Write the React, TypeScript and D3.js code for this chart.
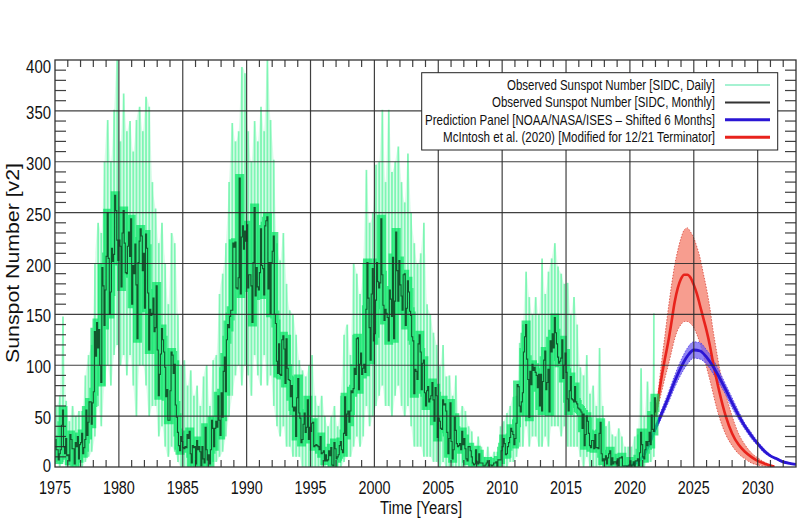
import React from 'react';
import * as d3 from 'd3';

// ---------- DATA ----------
// Monthly mean sunspot number (SIDC v2), Jan 1975 .. Jan 2022
const MONTHLY_START = 1975;
const MONTHLY: number[] = [
  27,17,17,7,13,17,41,56,20,13,28,11,
  12,6,32,27,18,18,3,24,20,30,8,22,
  24,33,13,19,27,56,31,44,64,64,42,63,
  74,133,109,142,117,135,100,83,196,178,139,174,
  207,250,205,150,172,215,202,209,267,252,223,203,
  223,217,177,230,252,220,191,190,217,231,207,244,
  160,198,190,219,179,126,201,222,234,227,193,210,
  156,229,215,171,115,155,149,151,166,133,137,178,
  115,70,91,111,136,125,113,98,69,76,46,46,
  75,113,110,92,101,61,49,34,21,16,30,25,
  19,18,20,19,32,28,35,13,4,21,19,20,
  3,26,17,20,15,1,20,8,4,39,17,7,
  12,3,17,46,38,20,38,45,39,70,46,31,
  73,49,94,108,74,125,140,137,148,154,154,220,
  216,221,176,175,186,284,170,226,237,214,232,222,
  238,176,189,189,178,142,201,255,168,196,177,174,
  191,234,198,195,169,237,242,246,175,201,151,201,
  212,227,150,141,104,92,121,91,90,125,129,116,
  82,126,97,86,85,69,80,59,55,59,30,68,
  87,53,48,24,27,42,53,34,39,66,27,39,
  35,43,44,20,21,22,21,20,17,30,13,14,
  16,6,12,6,7,16,11,19,2,1,24,18,
  8,10,12,21,25,17,14,33,69,31,52,55,
  44,55,75,73,77,97,91,126,127,76,101,112,
  91,97,101,93,155,201,166,137,105,170,195,124,
  131,164,201,182,176,181,244,189,159,144,155,151,
  147,124,174,165,148,206,126,163,231,193,163,203,
  179,168,154,189,190,139,156,183,172,153,149,128,
  124,72,96,94,86,121,130,113,76,102,105,73,
  60,75,79,64,67,70,83,66,45,78,70,29,
  48,45,38,37,66,61,62,55,34,13,28,63,
  25,8,17,49,36,23,20,21,23,17,35,22,
  28,18,8,6,20,20,16,10,4,2,3,17,
  5,3,13,4,4,4,1,1,2,4,6,1,
  2,2,1,2,4,4,5,0,7,7,7,16,
  20,28,23,12,13,20,24,29,38,35,32,22,
  28,43,81,79,60,54,64,73,113,128,140,106,
  86,49,94,81,101,95,98,93,90,78,91,60,
  91,55,84,105,114,76,83,96,54,124,113,131,
  117,147,132,121,108,102,104,107,125,87,100,112,
  93,67,55,75,89,67,66,64,79,64,62,58,
  57,56,54,38,52,21,32,50,45,33,21,19,
  26,26,18,32,19,19,18,33,44,13,6,8,
  7,11,3,9,13,16,2,9,3,5,5,3,
  8,1,9,9,10,1,1,1,1,0,1,2,
  6,0,2,5,0,6,6,8,1,14,34,22,
  10,8,17,25,21,25,34,22,51,37,35,68,
  54,
];

// Daily sunspot number range per quarter (max / min of daily values), 1975 Q1 .. 2021 Q4
const DAILY_START = 1975;
const DAILY_HI: number[] = [
  60,70,148,65, 45,60,50,55, 55,90,110,120, 200,240,230,300,
  341,300,351,405, 320,367,330,340, 310,341,354,330, 364,354,280,254,
  220,240,200,160, 230,220,150,100, 105,80,95,70, 80,60,89,100,
  60,105,110,170, 190,220,280,338, 320,330,393,387, 330,300,340,320,
  354,330,400,341, 302,220,203,230, 180,154,150,130, 105,95,89,100,
  110,70,60,70, 50,40,50,60, 40,70,130,140, 110,200,190,170,
  200,292,240,250, 297,300,351,280, 351,290,300,315, 280,260,308,250,
  220,200,210,240, 160,150,132,120, 99,120,89,90, 70,90,50,60,
  55,40,35,17, 30,20,10,20, 10,15,15,40, 45,53,60,69,
  70,122,140,192, 167,150,167,150, 205,170,192,205, 220,197,190,180,
  181,150,167,140, 98,90,110,72, 80,60,117,60, 40,45,32,30,
  38,30,20,20, 20,30,32,97, 50,84,64,151,
];
const DAILY_LO: number[] = [
  5,0,5,0, 0,0,0,0, 0,5,10,15, 30,60,40,80,
  100,80,110,120, 100,110,90,110, 80,50,100,100, 80,50,60,60,
  30,40,20,10, 20,15,5,0, 0,0,0,0, 0,0,0,0,
  0,5,5,10, 15,30,50,70, 90,100,80,100, 90,70,110,90,
  80,110,80,90, 60,40,30,40, 20,20,10,10, 10,0,0,0,
  0,0,0,0, 0,0,0,0, 0,0,5,10, 10,20,30,20,
  30,60,40,50, 60,70,80,60, 60,50,70,80, 60,50,60,40,
  20,20,20,10, 10,10,5,5, 0,5,0,0, 0,0,0,0,
  0,0,0,0, 0,0,0,0, 0,0,0,0, 0,0,5,5,
  10,20,20,40, 20,30,30,20, 20,30,20,40, 40,40,30,40,
  20,20,20,20, 10,0,10,0, 0,0,0,0, 0,0,0,0,
  0,0,0,0, 0,0,0,0, 0,5,5,10,
];

// NOAA/NASA/ISES prediction panel (shifted 6 months)
const BLUE_YEARS = [2019.5,2020,2020.5,2021,2021.5,2022,2022.5,2023,2023.5,2024,2024.5,2025,2025.5,2026,2026.5,2027,2027.5,2028,2028.5,2029,2029.5,2030,2030.5,2031,2031.5,2032,2032.5,2033];
const BLUE_MID = [0,1,4,10,22,38,53,68,84,98,109,115,114,108,99,88,76,63,51,40,31,23,16,11,8,5,3.5,2.5];
const BLUE_HI = [0,1.5,5,11,24,41,57,73,90,105,117,123,122,115,106,94,81,68,55,43,34,25,18,12,9,6,4,3];
const BLUE_LO = [0,0.5,3,9,20,35,49,63,78,91,101,107,106,101,92,82,71,58,47,37,28,21,14,10,7,4,3,2];

// McIntosh et al. (2020)
const RED_YEARS = [2022,2022.25,2022.5,2022.75,2023,2023.25,2023.5,2023.75,2024,2024.25,2024.5,2024.75,2025,2025.25,2025.5,2025.75,2026,2026.25,2026.5,2026.75,2027,2027.5,2028,2028.5,2029,2029.5,2030,2030.5,2031,2031.3];
const RED_MID = [50,70,90,107,123,142,162,176,185,189,189,186,179,170,158,146,134,120,103,88,74,50,33,22,15,10,6,3.5,1.5,0.5];
const RED_HI = [50,78,105,130,155,178,198,213,225,233,235,231,225,216,205,190,175,157,135,116,98,72,50,33,22,14,9,5,2,0.8];
const RED_LO = [50,62,75,88,100,113,126,135,140,143,143,141,137,130,121,110,98,86,73,60,49,32,21,13,8,4,2,1,0.3,0];

const X_TICKS = [1975,1980,1985,1990,1995,2000,2005,2010,2015,2020,2025,2030];
const Y_TICKS = [0,50,100,150,200,250,300,350,400];

const LEGEND_LABELS = [
  'Observed Sunspot Number [SIDC, Daily]',
  'Observed Sunspot Number [SIDC, Monthly]',
  'Prediction Panel [NOAA/NASA/ISES \u2013 Shifted 6 Months]',
  'McIntosh et al. (2020) [Modified for 12/21 Terminator]',
];
const LEGEND_COLORS = ['#a6f2d2', '#333333', '#2a16d4', '#e8231c'];
const LEGEND_WIDTHS = [208, 223, 290, 272];

// ---------- CHART ----------
const FONT = '"Liberation Sans", Arial, Helvetica, sans-serif';

export default function App() {
  const L = 55, R = 796, T = 60, B = 467;
  const x = d3.scaleLinear().domain([1975, 2033]).range([L, R]);
  const y = d3.scaleLinear().domain([0, 400]).range([B, T]);

  const monthly = MONTHLY.map((v, i) => ({ t: MONTHLY_START + (i + 0.5) / 12, v }));
  const daily = DAILY_HI.map((hi, i) => ({ t: DAILY_START + (i + 0.5) / 4, hi, lo: DAILY_LO[i] }));

  const monthlyLine = d3.line<{ t: number; v: number }>().x(d => x(d.t)).y(d => y(d.v)).curve(d3.curveStep);
  const dailyArea = d3.area<{ t: number; hi: number; lo: number }>()
    .x(d => x(d.t)).y0(d => y(d.lo)).y1(d => y(d.hi)).curve(d3.curveMonotoneX);

  const band = (years: number[], lo: number[], hi: number[]) =>
    d3.area<number>().x((_, i) => x(years[i])).y0((_, i) => y(lo[i])).y1((_, i) => y(hi[i])).curve(d3.curveMonotoneX)(years) || '';
  const line = (years: number[], vals: number[]) =>
    d3.line<number>().x((_, i) => x(years[i])).y((_, i) => y(vals[i])).curve(d3.curveMonotoneX)(years) || '';

  const minorX = d3.range(1976, 2033).filter(v => v % 5 !== 0);
  const minorY = d3.range(10, 400, 10).filter(v => v % 50 !== 0);

  return (
    <svg width={804} height={518} style={{ position: 'absolute', left: 0, top: 0, background: '#fff' }} fontFamily={FONT}>
      <defs>
        <clipPath id="plot"><rect x={L} y={T} width={R - L} height={B - T} /></clipPath>
      </defs>

      <g clipPath="url(#plot)">
        {/* predictions */}
        <path d={band(RED_YEARS, RED_LO, RED_HI)} fill="#f5826f" fillOpacity={0.78} stroke="#d8443a" strokeWidth={0.8} strokeDasharray="1.5 1.5" />
        <path d={band(BLUE_YEARS, BLUE_LO, BLUE_HI)} fill="#6e5ef2" fillOpacity={0.75} stroke="#4a38e0" strokeWidth={0.8} strokeDasharray="1.5 1.5" />
        <path d={line(RED_YEARS, RED_MID)} fill="none" stroke="#e8231c" strokeWidth={2.6} />
        <path d={line(BLUE_YEARS, BLUE_MID)} fill="none" stroke="#2a16d4" strokeWidth={2.8} />

        {/* daily observed */}
        <path d={dailyArea(daily) || ''} fill="#7ff5b5" fillOpacity={0.28} />
        {daily.map((d, i) => (
          <line key={i} x1={x(d.t)} x2={x(d.t)} y1={y(d.lo)} y2={y(d.hi)} stroke="#3ff290" strokeOpacity={0.6} strokeWidth={1.8} />
        ))}
        <path d={monthlyLine(monthly) || ''} fill="none" stroke="#00e35f" strokeOpacity={0.7} strokeWidth={8} />
        {/* monthly observed */}
        <path d={monthlyLine(monthly) || ''} fill="none" stroke="#0d3d1e" strokeOpacity={0.85} strokeWidth={1.1} />
      </g>

      {/* grid */}
      <g stroke="#2b2b2b" strokeWidth={1.2} strokeOpacity={0.9}>
        {X_TICKS.filter(t => t > 1975).map(t => (
          <line key={'gx' + t} x1={x(t)} x2={x(t)} y1={T} y2={B} />
        ))}
        {Y_TICKS.filter(v => v > 0 && v < 400).map(v => (
          <line key={'gy' + v} x1={L} x2={R} y1={y(v)} y2={y(v)} />
        ))}
        {minorX.map(t => (
          <g key={'mx' + t}>
            <line x1={x(t)} x2={x(t)} y1={B} y2={B - 7} />
            <line x1={x(t)} x2={x(t)} y1={T} y2={T + 7} />
          </g>
        ))}
        {minorY.map(v => (
          <g key={'my' + v}>
            <line x1={L} x2={L + 11} y1={y(v)} y2={y(v)} />
            <line x1={R} x2={R - 11} y1={y(v)} y2={y(v)} />
          </g>
        ))}
      </g>
      <rect x={L} y={T} width={R - L} height={B - T} fill="none" stroke="#333" strokeWidth={1.3} />

      {/* tick labels */}
      <g fontSize={18} fill="#111">
        {X_TICKS.map(t => (
          <text key={'lx' + t} x={x(t)} y={494} textAnchor="middle" textLength={32} lengthAdjust="spacingAndGlyphs">{t}</text>
        ))}
        {Y_TICKS.map(v => {
          const s = String(v);
          const by = v === 400 ? y(v) + 13 : v === 0 ? y(v) + 5 : y(v) + 8;
          return (
            <text key={'ly' + v} x={51} y={by} textAnchor="end" textLength={s.length * 8.3} lengthAdjust="spacingAndGlyphs">{s}</text>
          );
        })}
      </g>

      {/* axis titles */}
      <text x={421} y={514} fontSize={18} textAnchor="middle" textLength={82} lengthAdjust="spacingAndGlyphs" fill="#111">Time [Years]</text>
      <text transform="translate(19,263) rotate(-90)" fontSize={19} textAnchor="middle" textLength={200} lengthAdjust="spacingAndGlyphs" fill="#111">Sunspot Number [v2]</text>

      {/* legend */}
      <rect x={421.7} y={72.7} width={356} height={77.3} fill="#fff" stroke="#222" strokeWidth={1} />
      {LEGEND_LABELS.map((lab, i) => {
        const cy = 85 + i * 17.4;
        return (
          <g key={'lg' + i}>
            <text x={715} y={cy + 5} fontSize={14.5} textAnchor="end" textLength={LEGEND_WIDTHS[i]} lengthAdjust="spacingAndGlyphs" fill="#111">{lab}</text>
            <line x1={725} x2={770} y1={cy} y2={cy} stroke={LEGEND_COLORS[i]} strokeWidth={i >= 2 ? 3 : 2} />
          </g>
        );
      })}
    </svg>
  );
}
